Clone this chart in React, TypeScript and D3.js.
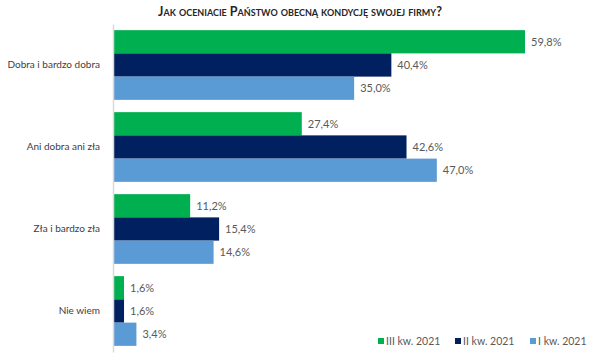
import React, { useRef, useEffect } from 'react';
import * as d3 from 'd3';

const title = 'Jak oceniacie Państwo obecną kondycję swojej firmy?';
const categories = ['Dobra i bardzo dobra', 'Ani dobra ani zła', 'Zła i bardzo zła', 'Nie wiem'];
const seriesNames = ['III kw. 2021', 'II kw. 2021', 'I kw. 2021'];
const seriesColors = ['#00B050', '#002060', '#5B9BD5'];
const q3Values = [59.8, 27.4, 11.2, 1.6];
const q2Values = [40.4, 42.6, 15.4, 1.6];
const q1Values = [35.0, 47.0, 14.6, 3.4];

const ChartBars = () => {
    const ref = useRef(null);

    useEffect(() => {
        d3.select(ref.current).selectAll('*').remove();

        const width = 600, height = 354;
        const font = 'Lato, "Open Sans", sans-serif';
        const svg = d3.select(ref.current)
            .attr('width', width)
            .attr('height', height)
            .style('font-family', font);

        const series = [q3Values, q2Values, q1Values];

        const x = d3.scaleLinear().domain([0, 60]).range([113, 526.4]);
        const y = d3.scaleBand().domain(categories).range([24, 352]).paddingInner(0.15).paddingOuter(0.075);
        const inner = d3.scaleBand().domain(d3.range(series.length)).range([0, y.bandwidth()]);

        // title
        svg.append('text')
            .attr('x', 300)
            .attr('y', 16)
            .attr('text-anchor', 'middle')
            .style('font-weight', 'bold')
            .style('font-variant', 'small-caps')
            .style('font-size', '12.5px')
            .style('fill', '#262626')
            .text(title);

        series.forEach((vals, i) => {
            svg.append('g')
                .selectAll('rect')
                .data(vals)
                .enter()
                .append('rect')
                .attr('x', x(0))
                .attr('y', (d, j) => y(categories[j]) + inner(i))
                .attr('width', d => x(d) - x(0))
                .attr('height', inner.bandwidth())
                .attr('fill', seriesColors[i]);

            svg.append('g')
                .selectAll('text')
                .data(vals)
                .enter()
                .append('text')
                .attr('x', d => x(d) + 6)
                .attr('y', (d, j) => y(categories[j]) + inner(i) + inner.bandwidth() / 2)
                .attr('dy', '0.35em')
                .style('font-size', '11px')
                .style('fill', '#595959')
                .text(d => d3.format('.1f')(d).replace('.', ',') + '%');
        });

        // category axis
        const yAxis = svg.append('g')
            .attr('transform', `translate(${x(0)},0)`)
            .call(d3.axisLeft(y).tickSize(0).tickPadding(13));
        yAxis.select('.domain').attr('stroke', '#d9d9d9').attr('stroke-width', 1.5);
        yAxis.selectAll('text')
            .style('font-family', font)
            .style('font-size', '10px')
            .style('fill', '#404040');

        // legend
        const legendX = [378, 455, 530];
        const legend = svg.append('g');
        seriesNames.forEach((name, i) => {
            legend.append('rect')
                .attr('x', legendX[i])
                .attr('y', 338)
                .attr('width', 6)
                .attr('height', 6)
                .attr('fill', seriesColors[i]);
            legend.append('text')
                .attr('x', legendX[i] + 8)
                .attr('y', 341)
                .attr('dy', '0.35em')
                .style('font-size', '10.5px')
                .style('fill', '#595959')
                .text(name);
        });
    }, []);

    return (
        <div style={{ position: 'absolute', left: 0, top: 0 }}>
            <svg ref={ref} style={{ display: 'block' }} />
        </div>
    );
};

export default function App() {
    return <ChartBars />;
}
